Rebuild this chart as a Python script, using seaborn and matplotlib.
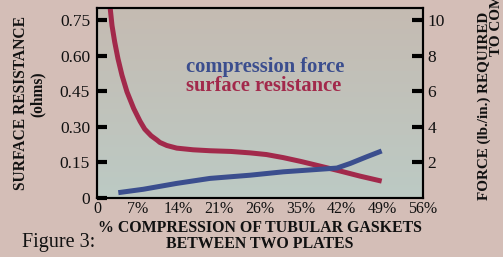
import numpy as np
import pandas as pd
import matplotlib
matplotlib.use("Agg")
import matplotlib.pyplot as plt
import seaborn as sns
from matplotlib.colors import LinearSegmentedColormap

# ---- data ----
res_pct = [2.1, 2.28, 2.58, 3.04, 3.6, 4.29, 5.15, 6.3, 7.4, 8.2, 9.3, 10.3, 10.8, 12.0, 13.7, 16.5, 19.4, 23.0, 26.3, 29.1, 32.0, 35.0, 37.7, 41.7, 45.2, 48.9]
res_ohms = [0.83, 0.796, 0.726, 0.657, 0.587, 0.517, 0.447, 0.377, 0.323, 0.290, 0.262, 0.244, 0.234, 0.221, 0.210, 0.203, 0.199, 0.196, 0.190, 0.183, 0.170, 0.154, 0.138, 0.114, 0.092, 0.071]
force_pct = [3.66, 7.95, 13.7, 19.4, 26.3, 32.0, 37.7, 41.2, 43.5, 46.3, 48.9]
force_lb = [0.30, 0.49, 0.82, 1.10, 1.28, 1.47, 1.60, 1.68, 1.94, 2.31, 2.64]
x_ticks = [0, 7, 14, 21, 28, 35, 42, 49, 56]
x_labels = ["0", "7%", "14%", "21%", "26%", "35%", "42%", "49%", "56%"]
yl_ticks = [0, 0.15, 0.30, 0.45, 0.60, 0.75]
yl_labels = ["0", "0.15", "0.30", "0.45", "0.60", "0.75"]
yr_ticks = [2, 4, 6, 8, 10]
yr_labels = ["2", "4", "6", "8", "10"]

df_res = pd.DataFrame({"pct": res_pct, "ohms": res_ohms})
df_force = pd.DataFrame({"pct": force_pct, "lb": force_lb})

sns.set_theme(style="white")
plt.rcParams['font.family'] = ['Liberation Serif', 'DejaVu Serif']

RED = "#a2294b"
BLUE = "#3b4e8e"
FIGBG = "#d4beb7"
TXT = "#111111"

fig = plt.figure(figsize=(5.03, 2.57), dpi=100, facecolor=FIGBG)
ax = fig.add_axes([97/503, 1-198/257, (423-97)/503, (198-8)/257])

# gradient background (tan at top, grey-green at bottom)
cmap = LinearSegmentedColormap.from_list("bg", ["#c5bbb2", "#bccac4"])
grad = np.linspace(0, 1, 256).reshape(-1, 1)
ax.imshow(grad, cmap=cmap, aspect="auto", extent=[0, 56, 0.80, 0], origin="lower", zorder=0)
ax.set_xlim(0, 56)
ax.set_ylim(0, 0.80)

sns.lineplot(data=df_res, x="pct", y="ohms", ax=ax, color=RED, linewidth=3.6,
             solid_capstyle="butt", solid_joinstyle="round", zorder=3)
ax2 = ax.twinx()
ax2.set_ylim(0, 0.80/0.075)
sns.lineplot(data=df_force, x="pct", y="lb", ax=ax2, color=BLUE, linewidth=3.6,
             solid_capstyle="butt", solid_joinstyle="round", zorder=3)
ax.set_xlim(0, 56)
ax.set_ylim(0, 0.80)

for a in (ax, ax2):
    for s in a.spines.values():
        s.set_color("black")
        s.set_linewidth(1.5)

ax.set_xticks(x_ticks)
ax.set_xticklabels(x_labels, fontsize=11.5)
ax.set_yticks(yl_ticks)
ax.set_yticklabels(yl_labels, fontsize=12.5)
ax.tick_params(axis="x", direction="in", length=6, width=1.5, color="black", pad=2, labelcolor=TXT)
ax.tick_params(axis="y", direction="in", length=7, width=3, color="black", pad=5, labelcolor=TXT)
ax2.set_yticks(yr_ticks)
ax2.set_yticklabels(yr_labels, fontsize=12.5)
ax2.tick_params(axis="y", direction="in", length=8, width=3, color="black", pad=3, labelcolor=TXT)
ax.set_xlabel("")
ax.set_ylabel("")
ax2.set_ylabel("")

# axis labels
fig.text(260/503, 1-228/257, "% COMPRESSION OF TUBULAR GASKETS", ha="center", va="center",
         fontsize=11.4, fontweight="bold", color=TXT)
fig.text(260/503, 1-244/257, "BETWEEN TWO PLATES", ha="center", va="center",
         fontsize=11.4, fontweight="bold", color=TXT)
fig.text(59/503, 1-242/257, "Figure 3:", ha="center", va="center", fontsize=14.5, color=TXT)
fig.text(21/503, 1-103/257, "SURFACE RESISTANCE", rotation=90, ha="center", va="center",
         fontsize=11.2, fontweight="bold", color=TXT)
fig.text(38/503, 1-94/257, "(ohms)", rotation=90, ha="center", va="center",
         fontsize=11.2, fontweight="bold", color=TXT)
fig.text(484/503, 1-200/257, "FORCE (lb./in.) REQUIRED", rotation=90, ha="center", va="bottom",
         fontsize=10.9, fontweight="bold", color=TXT)
fig.text(497/503, 1-56/257, "TO COMPRESS", rotation=90, ha="center", va="bottom",
         fontsize=10.9, fontweight="bold", color=TXT)

# in-plot legend text
ax.text(15.3, 0.552, "compression force", fontsize=14.8, fontweight="bold", color=BLUE,
        ha="left", va="center")
ax.text(15.3, 0.472, "surface resistance", fontsize=14.8, fontweight="bold", color=RED,
        ha="left", va="center")

fig.savefig("out.png", dpi=100, facecolor=FIGBG)
